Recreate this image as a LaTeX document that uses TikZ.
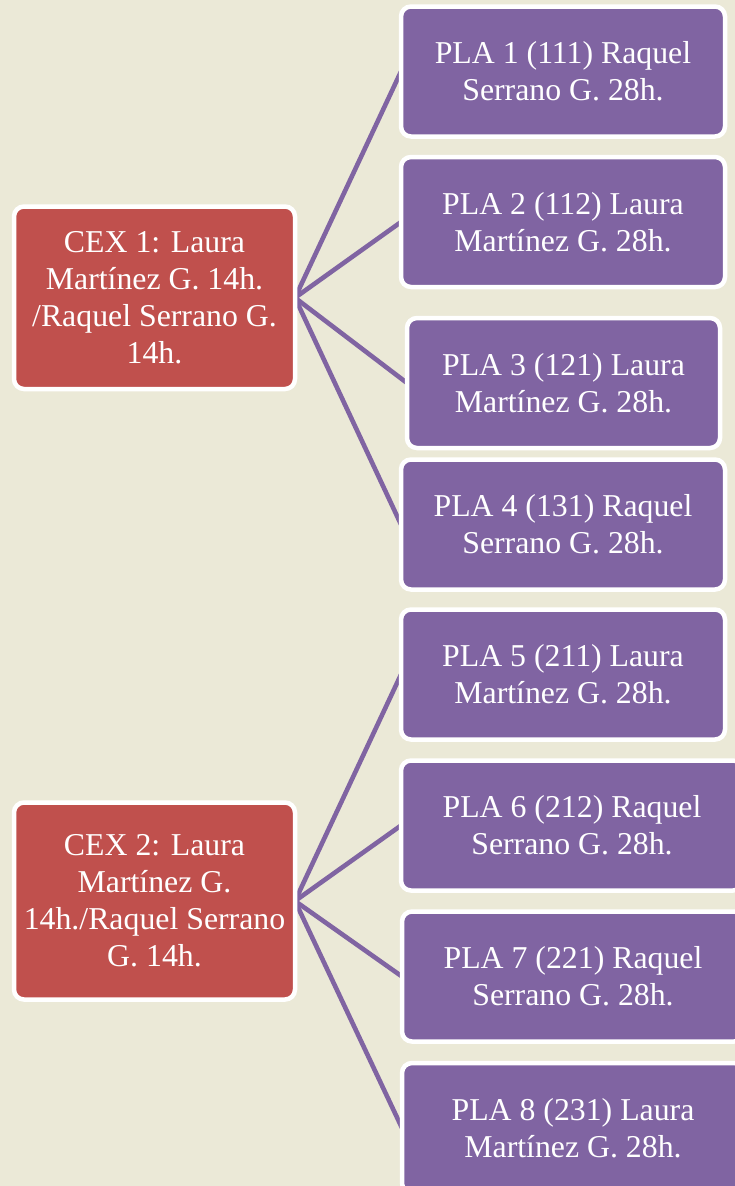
\documentclass[tikz,border=0pt]{standalone}
\usepackage{fontspec}
\setmainfont{Liberation Serif}
\definecolor{bgc}{HTML}{EBE9D7}
\definecolor{redc}{HTML}{C0504D}
\definecolor{purc}{HTML}{8064A2}
\pgfdeclarelayer{bg}
\pgfsetlayers{bg,main}
\tikzset{
  box/.style={draw=white, line width=4.5pt, rounded corners=10pt, inner sep=0pt, outer sep=0pt,
    text=white, align=center, font=\fontsize{31.8}{37}\selectfont},
  cexbox/.style={box, fill=redc, minimum width=281pt},
  plabox/.style={box, fill=purc, minimum width=324pt, minimum height=130pt},
  link/.style={draw=purc, line width=4.6pt}
}
\begin{document}
\begin{tikzpicture}[x=1pt,y=-1pt]
\useasboundingbox (0,0) rectangle (735,1186);
\begin{pgfonlayer}{bg}
\fill[bgc] (0,0) rectangle (735,1186);
\end{pgfonlayer}
\node[cexbox, minimum height=182.5pt] (c1) at (154.5,297.75) {CEX 1: Laura\\Martínez G. 14h.\\/Raquel Serrano G.\\14h.};
\node[cexbox, minimum height=197pt] (c2) at (154.5,901) {CEX 2: Laura\\Martínez G.\\14h./Raquel Serrano\\G. 14h.};
\node[plabox] (p1) at (563,71.5) {PLA 1 (111) Raquel\\Serrano G. 28h.};
\node[plabox] (p2) at (563,222) {PLA 2 (112) Laura\\Martínez G. 28h.};
\node[plabox, minimum width=313pt] (p3) at (563.5,383) {PLA 3 (121) Laura\\Martínez G. 28h.};
\node[plabox] (p4) at (563,524.5) {PLA 4 (131) Raquel\\Serrano G. 28h.};
\node[plabox] (p5) at (563,674.5) {PLA 5 (211) Laura\\Martínez G. 28h.};
\node[plabox, minimum width=342pt] (p6) at (572,825.5) {PLA 6 (212) Raquel\\Serrano G. 28h.};
\node[plabox, minimum width=342pt] (p7) at (573,976.5) {PLA 7 (221) Raquel\\Serrano G. 28h.};
\node[plabox, minimum width=342pt] (p8) at (573,1128) {PLA 8 (231) Laura\\Martínez G. 28h.};
\begin{pgfonlayer}{bg}
\foreach \p in {p1,p2,p3,p4} \draw[link] (c1.east) -- (\p.west);
\foreach \p in {p5,p6,p7,p8} \draw[link] (c2.east) -- (\p.west);
\end{pgfonlayer}
\end{tikzpicture}
\end{document}
